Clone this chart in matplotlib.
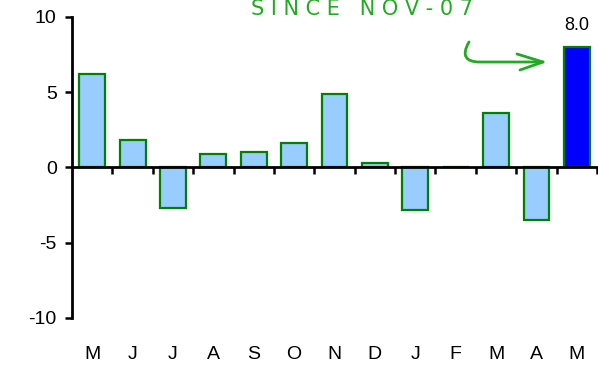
import numpy as np
import matplotlib
matplotlib.use("Agg")
import matplotlib.pyplot as plt
from matplotlib.path import Path
from matplotlib.patches import PathPatch

months = ["M", "J", "J", "A", "S", "O", "N", "D", "J", "F", "M", "A", "M"]
values = [6.2, 1.8, -2.7, 0.9, 1.0, 1.6, 4.9, 0.3, -2.8, 0.0, 3.6, -3.5, 8.0]
bar_colors = ["#99CCFF"] * 12 + ["#0000FF"]
note = "S I N C E   N O V - 0 7"

plt.rcParams['font.family'] = ['Liberation Sans', 'DejaVu Sans']
plt.rcParams['axes.unicode_minus'] = False

W, H = 598, 365
fig = plt.figure(figsize=(W / 100, H / 100), dpi=100)
ax = fig.add_axes([72 / W, 1 - 318 / H, (597 - 72) / W, (318 - 17) / H])

x = np.arange(len(months))
ax.bar(x, values, width=0.64, color=bar_colors, edgecolor="#008000", linewidth=1.6, zorder=2)

ax.set_xlim(-0.5, len(months) - 0.5)
ax.set_ylim(-10, 10)
ax.set_yticks([-10, -5, 0, 5, 10])
ax.tick_params(axis="y", direction="out", length=5, width=1.8, labelsize=14, pad=6)

for s in ["top", "right"]:
    ax.spines[s].set_visible(False)
ax.spines["left"].set_linewidth(2)
ax.spines["bottom"].set_position(("data", 0))
ax.spines["bottom"].set_linewidth(2)
ax.spines["bottom"].set_zorder(3)

ax.set_xticks(np.arange(0.5, len(months), 1.0))
ax.set_xticklabels([])
ax.tick_params(axis="x", direction="out", length=5, width=1.8)

trans = ax.get_xaxis_transform()
for i, m in enumerate(months):
    ax.text(i, -0.12, m, transform=trans, ha="center", va="center", fontsize=14)

# value label on last bar
ax.text(x[-1], values[-1] + 0.9, f"{values[-1]:.1f}", ha="center", va="bottom", fontsize=13)

# handwritten note
green = "#22AA22"
fig.text(362 / W, 1 - 9 / H, note, color=green, fontsize=15, ha="center", va="center",
         family="DejaVu Sans")

def fp(px, py):
    return (px / W, 1 - py / H)

verts = [fp(469, 42), fp(461, 56), fp(466, 62), fp(480, 62), fp(543, 62)]
codes = [Path.MOVETO, Path.CURVE4, Path.CURVE4, Path.CURVE4, Path.LINETO]
fig.add_artist(PathPatch(Path(verts, codes), transform=fig.transFigure, fill=False,
                         edgecolor=green, linewidth=2, capstyle="round"))
head = [fp(517, 54), fp(543, 62), fp(520, 70)]
fig.add_artist(PathPatch(Path(head, [Path.MOVETO, Path.LINETO, Path.LINETO]),
                         transform=fig.transFigure, fill=False, edgecolor=green,
                         linewidth=2, capstyle="round", joinstyle="round"))

fig.savefig("out.png", dpi=100)
